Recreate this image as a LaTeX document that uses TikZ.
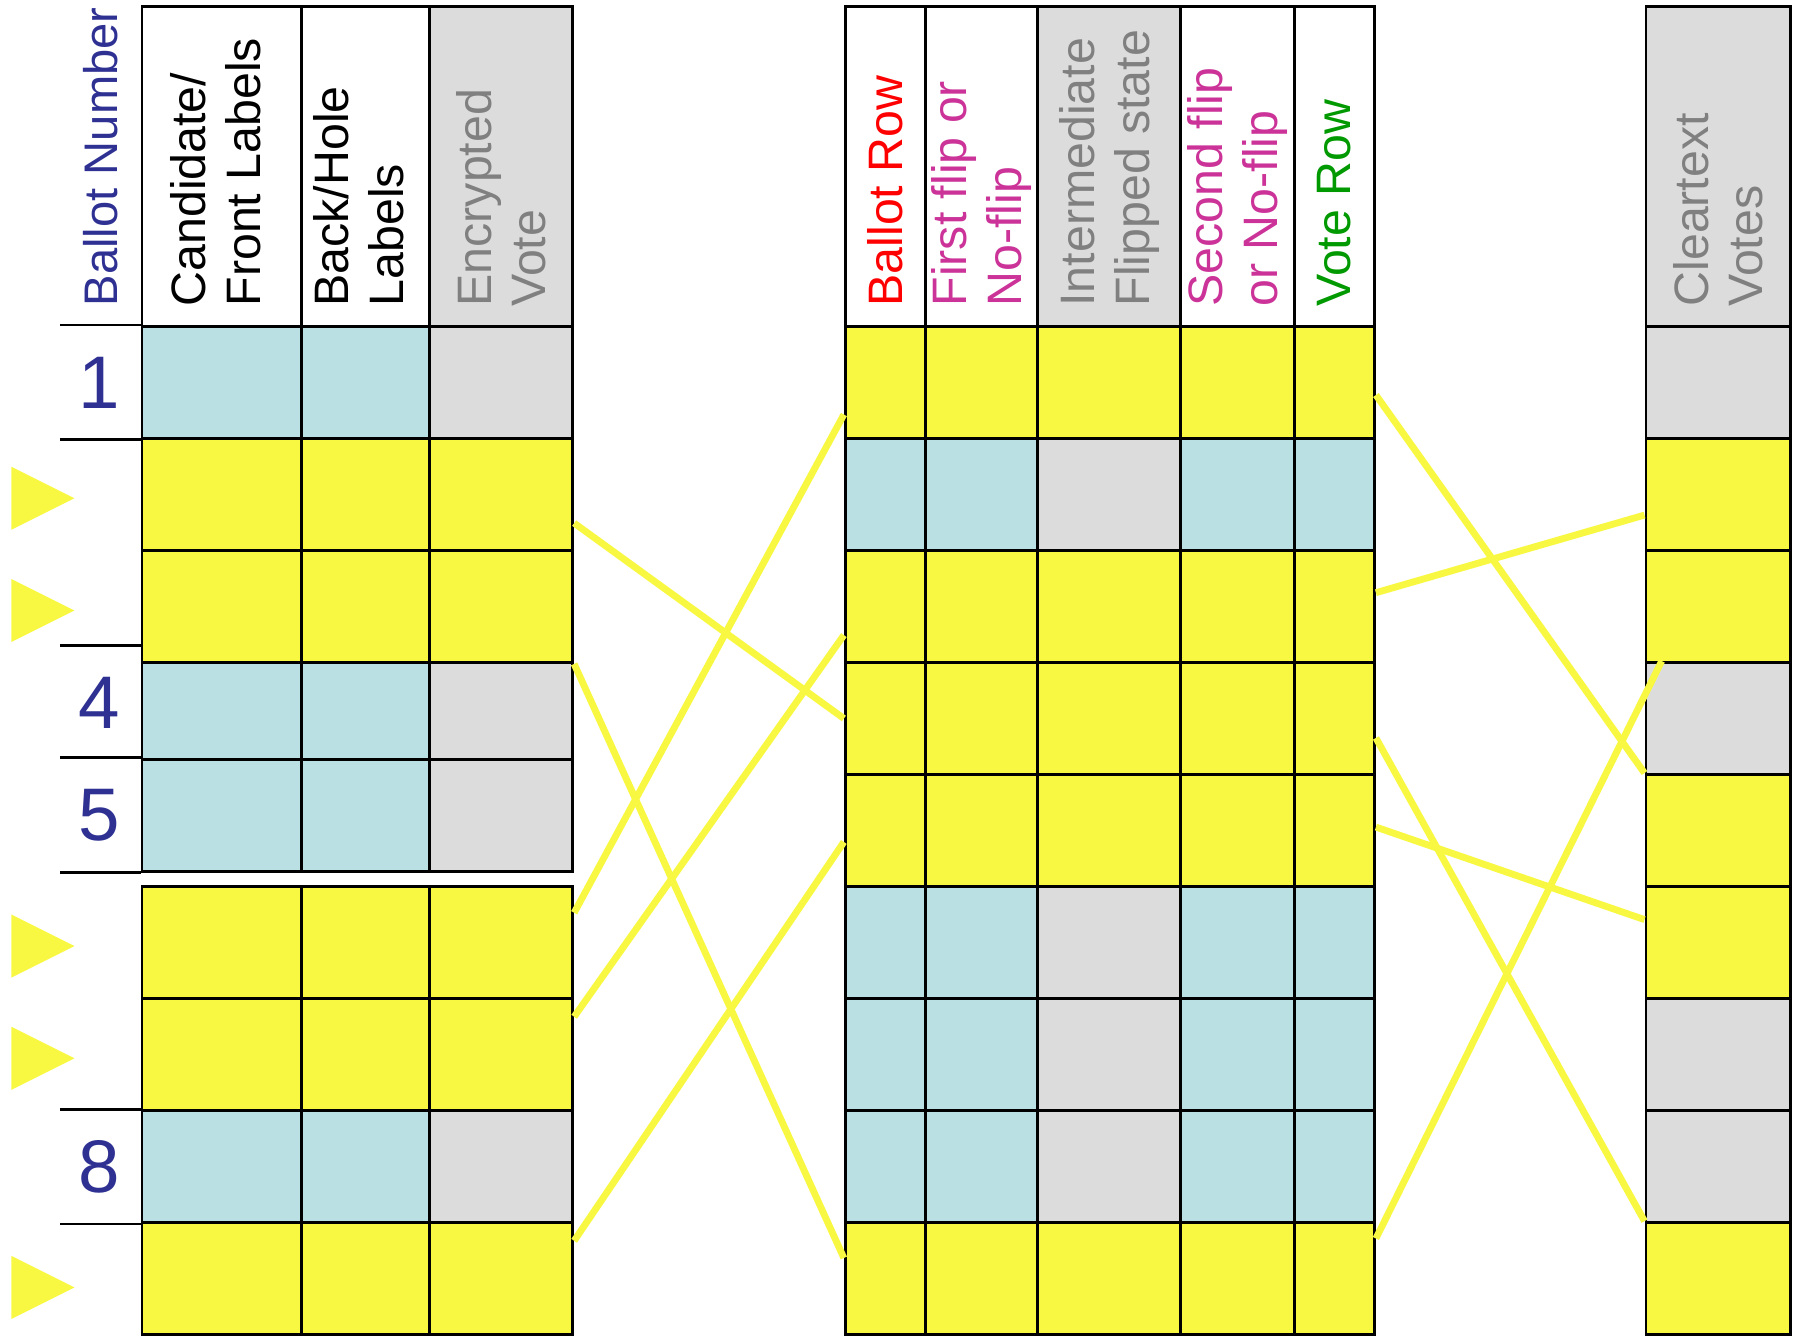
\documentclass[tikz,border=0pt]{standalone}
\usepackage{fontspec}
\setmainfont{Liberation Sans}
\usetikzlibrary{calc}

\definecolor{cellyellow}{RGB}{248,248,66}
\definecolor{cellblue}{RGB}{187,224,227}
\definecolor{cellgray}{RGB}{220,220,220}
\definecolor{textgray}{RGB}{128,128,128}
\definecolor{numblue}{RGB}{46,49,146}
\definecolor{flipmag}{RGB}{204,51,153}
\definecolor{votegreen}{RGB}{0,153,0}

\tikzset{
  cell/.style={draw=black, line width=0.7pt, inner sep=0pt, minimum height=0.978cm},
  hdcell/.style={cell, minimum height=2.79cm},
  hdtext/.style={rotate=90, anchor=west, inner sep=0pt, align=left, font=\fontsize{12}{13.6}\selectfont},
  numtext/.style={text=numblue, inner sep=0pt, font=\fontsize{18.5}{20}\selectfont},
  rowline/.style={line width=0.7pt},
  perm/.style={draw=cellyellow, line width=1.7pt},
}

\begin{document}
\begin{tikzpicture}[x=0.01cm, y=-0.01cm]
\useasboundingbox (0,0) rectangle (1568,1171);

% Ballot table: header
\node[hdcell, fill=white, minimum width=1.39cm] (Lh1) at (193.5,145.5) {};
\node[hdcell, fill=white, minimum width=1.12cm] (Lh2) at (319,145.5) {};
\node[hdcell, fill=cellgray, minimum width=1.25cm] (Lh3) at (437.5,145.5) {};
\node[hdtext, text=numblue, font=\fontsize{11.7}{13}\selectfont] (tBallotNo) at (88,268) {Ballot Number};
\node[hdtext] (tCand) at ([xshift=-0.05cm,yshift=0.18cm]Lh1.south) {Candidate/\\Front Labels};
\node[hdtext] (tBack) at ([xshift=-0.06cm,yshift=0.18cm]Lh2.south) {Back/Hole\\Labels};
\node[hdtext, text=textgray] (tEnc) at ([yshift=0.18cm]Lh3.south) {Encrypted\\Vote};

% Ballot table: rows (row 4 first, rows 2-3 overlap it)
\foreach \r/\y/\ca/\cb in {1/333.9/cellblue/cellgray, 4/613.9/cellblue/cellgray,
    5/711.7/cellblue/cellgray, 8/1018.5/cellblue/cellgray,
    2/431.7/cellyellow/cellyellow, 3/529.5/cellyellow/cellyellow,
    6/822.9/cellyellow/cellyellow, 7/920.7/cellyellow/cellyellow,
    9/1116.3/cellyellow/cellyellow}{
  \node[cell, fill=\ca, minimum width=1.39cm] (L\r1) at (193.5,\y) {};
  \node[cell, fill=\ca, minimum width=1.12cm] (L\r2) at (319,\y) {};
  \node[cell, fill=\cb, minimum width=1.25cm] (L\r3) at (437.5,\y) {};
}

% Ballot numbers
\foreach \r in {1,4,5,8}
  \node[numtext] (n\r) at ([xshift=-0.36cm]L\r1.west) {\r};
\foreach \c in {L11.north west, L11.south west, L41.north west, L51.north west,
    L51.south west, L81.north west, L81.south west}
  \draw[rowline] (\c) -- ++(-70,0);

% Markers
\foreach \y in {435,533,826,924,1124}
  \fill[cellyellow] (10,\y-27.5) -- (65,\y) -- (10,\y+27.5) -- cycle;

% Mix table: header
\node[hdcell, fill=white, minimum width=0.70cm] (Mh1) at (773,145.5) {};
\node[hdcell, fill=white, minimum width=0.98cm] (Mh2) at (857,145.5) {};
\node[hdcell, fill=cellgray, minimum width=1.25cm] (Mh3) at (968.5,145.5) {};
\node[hdcell, fill=white, minimum width=0.99cm] (Mh4) at (1080.5,145.5) {};
\node[hdcell, fill=white, minimum width=0.70cm] (Mh5) at (1165,145.5) {};
\node[hdtext, text=red] (tBRow) at ([yshift=0.18cm]Mh1.south) {Ballot Row};
\node[hdtext, text=flipmag] (tFirst) at ([yshift=0.18cm]Mh2.south) {First flip or\\No-flip};
\node[hdtext, text=textgray] (tInter) at ([yshift=0.18cm]Mh3.south) {Intermediate\\Flipped state};
\node[hdtext, text=flipmag] (tSecond) at ([yshift=0.18cm]Mh4.south) {Second flip\\or No-flip};
\node[hdtext, text=votegreen] (tVRow) at ([yshift=0.18cm]Mh5.south) {Vote Row};

% Mix table: rows
\foreach \r/\y/\ca/\cb in {1/333.9/cellyellow/cellyellow, 2/431.7/cellblue/cellgray,
    3/529.5/cellyellow/cellyellow, 4/627.3/cellyellow/cellyellow,
    5/725.1/cellyellow/cellyellow, 6/822.9/cellblue/cellgray,
    7/920.7/cellblue/cellgray, 8/1018.5/cellblue/cellgray,
    9/1116.3/cellyellow/cellyellow}{
  \node[cell, fill=\ca, minimum width=0.70cm] (M\r1) at (773,\y) {};
  \node[cell, fill=\ca, minimum width=0.98cm] (M\r2) at (857,\y) {};
  \node[cell, fill=\cb, minimum width=1.25cm] (M\r3) at (968.5,\y) {};
  \node[cell, fill=\ca, minimum width=0.99cm] (M\r4) at (1080.5,\y) {};
  \node[cell, fill=\ca, minimum width=0.70cm] (M\r5) at (1165,\y) {};
}

% Result table
\node[hdcell, fill=cellgray, minimum width=1.26cm] (Rh) at (1500,145.5) {};
\node[hdtext, text=textgray] (tClear) at ([yshift=0.18cm]Rh.south) {Cleartext\\Votes};
\foreach \r/\y/\c in {1/333.9/cellgray, 2/431.7/cellyellow, 3/529.5/cellyellow,
    4/627.3/cellgray, 5/725.1/cellyellow, 6/822.9/cellyellow,
    7/920.7/cellgray, 8/1018.5/cellgray, 9/1116.3/cellyellow}
  \node[cell, fill=\c, minimum width=1.26cm] (R\r) at (1500,\y) {};

% Permutation: ballots to mix rows
\draw[perm] ([yshift=-0.25cm]L23.east) -- (M41.west);
\draw[perm] (L33.south east) -- ([yshift=0.18cm]M91.west);
\draw[perm] ([yshift=0.26cm]L63.east) -- ([yshift=-0.28cm]M11.west);
\draw[perm] ([yshift=0.33cm]L73.east) -- ([yshift=-0.25cm]M31.west);
\draw[perm] ([yshift=0.33cm]L93.east) -- ([yshift=-0.1cm]M51.west);

% Permutation: mix rows to votes
\draw[perm] ([yshift=-0.11cm]M15.east) -- (R5.north west);
\draw[perm] ([yshift=0.12cm]M35.east) -- ([yshift=-0.18cm]R2.west);
\draw[perm] ([yshift=-0.17cm]M45.east) -- (R9.north west);
\draw[perm] ([yshift=0.03cm]M55.east) -- ([yshift=0.2cm]R6.west);
\draw[perm] ([yshift=0.35cm]M95.east) -- ([xshift=0.15cm]R4.north west);
\end{tikzpicture}
\end{document}
